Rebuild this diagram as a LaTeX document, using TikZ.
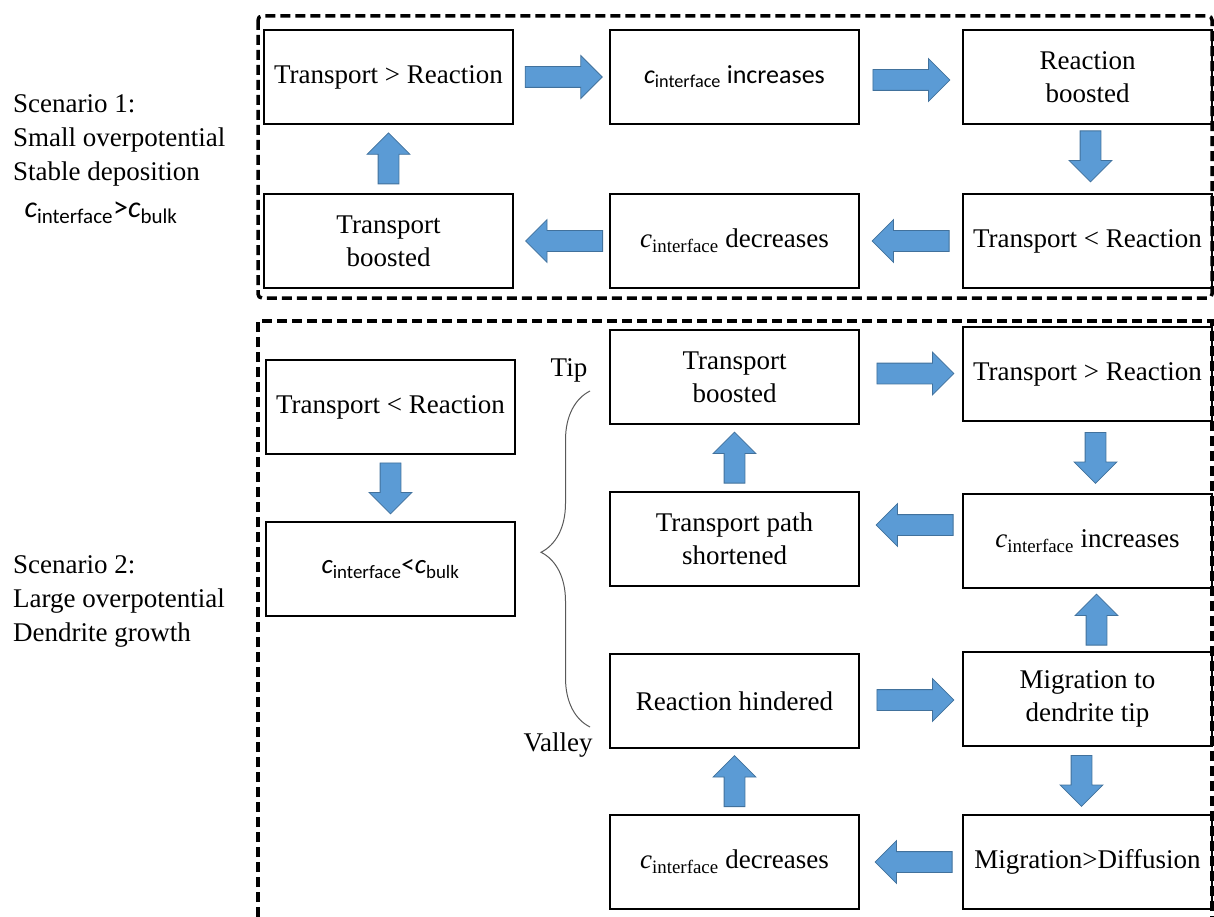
\documentclass[tikz,border=0pt]{standalone}
\usepackage{fontspec}
\setmainfont{Liberation Serif}
\newfontfamily\calfont{Carlito}
\usetikzlibrary{shapes.arrows,calc,decorations.pathreplacing}
\definecolor{arrfill}{HTML}{5B9BD5}
\definecolor{arrline}{HTML}{41719C}
\newcommand\cif{{\itshape c}\textsubscript{interface}}
\newcommand\cbk{{\itshape c}\textsubscript{bulk}}

\begin{document}
\begin{tikzpicture}[x=1pt,y=-1pt,
  stepbox/.style={draw,line width=2pt,minimum width=249pt,minimum height=94pt,inner sep=0pt,align=center,font=\fontsize{27}{33}\selectfont},
  framebox/.style={line width=3.5pt,dash pattern=on 10pt off 5pt},
  blockarr/.style={single arrow,draw=arrline,fill=arrfill,line width=0.8pt,minimum height=77pt,single arrow head extend=11pt,inner xsep=0pt,inner ysep=10pt},
  rarr/.style={blockarr,anchor=tail,xshift=-38.5pt},
  larr/.style={blockarr,rotate=180,anchor=tail,xshift=-38.5pt},
  uarr/.style={blockarr,minimum height=51pt,rotate=90,anchor=tail,xshift=-25.5pt},
  darr/.style={blockarr,minimum height=51pt,rotate=-90,anchor=tail,xshift=-25.5pt},
  sidetext/.style={align=left,anchor=west,inner sep=0pt,font=\fontsize{27}{34}\selectfont},
  marktext/.style={inner sep=0pt,font=\fontsize{27}{33}\selectfont}]
\useasboundingbox (0,0) rectangle (1214,917);

\draw[framebox,rounded corners=4pt] (258,16) rectangle (1212,298);
\draw[framebox] (258,917) |- (1212,321) -- (1212,917);

\node[sidetext] (sc1) at (13,140) {Scenario 1:\\Small overpotential\\Stable deposition};
\node[inner sep=0pt,font=\calfont\fontsize{30}{34}\selectfont] (sc1c) at (101,213) {\cif>\cbk};
\node[sidetext] (sc2) at (13,601) {Scenario 2:\\Large overpotential\\Dendrite growth};

\node[stepbox,line width=1.2pt] (tgr) at (388.5,77) {Transport > Reaction};
\node[stepbox,font=\calfont\fontsize{26}{32}\selectfont] (ciup) at (734.5,77) {\cif{} increases};
\node[stepbox] (rboost) at (1087.5,77) {Reaction\\boosted};
\node[stepbox] (tboost) at (388.5,241) {Transport\\boosted};
\node[stepbox] (cidown) at (734.5,241) {\cif{} decreases};
\node[stepbox] (tlr) at (1087.5,241) {Transport < Reaction};

\node[rarr] (a1) at ($(tgr.east)!.5!(ciup.west)+(2,0)$) {};
\node[rarr] (a2) at ($(ciup.east)!.5!(rboost.west)+(0,3)$) {};
\node[darr] (a3) at ($(rboost.south)!.5!(tlr.north)+(3,-3)$) {};
\node[larr] (a4) at ($(tlr.west)!.5!(cidown.east)$) {};
\node[larr] (a5) at ($(cidown.west)!.5!(tboost.east)+(3,0)$) {};
\node[uarr] (a6) at ($(tboost.north)!.5!(tgr.south)$) {};

\node[stepbox] (dtlr) at (390.5,407) {Transport < Reaction};
\node[stepbox,font=\calfont\fontsize{27}{32}\selectfont] (dclb) at (390.5,569) {\cif<\cbk};
\node[darr] (d1) at ($(dtlr.south)!.5!(dclb.north)$) {};

\node[stepbox] (dtboost) at (734.5,377) {Transport\\boosted};
\node[stepbox] (dtgr) at (1087.5,374) {Transport > Reaction};
\node[stepbox] (dpath) at (734.5,539) {Transport path\\shortened};
\node[stepbox] (dciup) at (1087.5,541) {\cif{} increases};
\node[stepbox] (dhind) at (734.5,701) {Reaction hindered};
\node[stepbox] (dmig) at (1087.5,699) {Migration to\\dendrite tip};
\node[stepbox] (dcidown) at (734.5,862) {\cif{} decreases};
\node[stepbox] (dmd) at (1087.5,862) {Migration>Diffusion};

\node[rarr] (d2) at ($(dtboost.east)!.5!(dtgr.west)+(4,-2)$) {};
\node[darr] (d3) at ($(dtgr.south)!.5!(dciup.north)+(8,0)$) {};
\node[larr] (d4) at ($(dciup.west)!.5!(dpath.east)+(4,-15)$) {};
\node[uarr] (d5) at ($(dpath.north)!.5!(dtboost.south)$) {};
\node[rarr] (d6) at ($(dhind.east)!.5!(dmig.west)+(4,0)$) {};
\node[uarr] (d7) at ($(dmig.north)!.5!(dciup.south)+(9,0)$) {};
\node[darr] (d8) at ($(dmig.south)!.5!(dmd.north)+(-6,0)$) {};
\node[larr] (d9) at ($(dmd.west)!.5!(dcidown.east)+(3,0)$) {};
\node[uarr] (d10) at ($(dcidown.north)!.5!(dhind.south)$) {};

\coordinate (brtop) at (590,391);
\coordinate (brbot) at (590,727);
\draw[black!65,line width=1pt,decorate,decoration={brace,amplitude=49pt,aspect=0.52}] (brbot) -- (brtop);
\node[marktext] (tip) at (569,370) {Tip};
\node[marktext] (valley) at (558,745) {Valley};
\end{tikzpicture}
\end{document}
